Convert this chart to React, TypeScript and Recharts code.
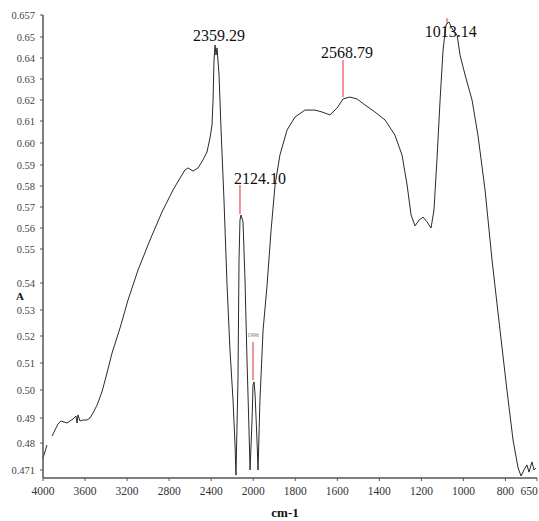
import { LineChart, Line, XAxis, YAxis, ReferenceLine, ReferenceDot } from 'recharts';

// spectrum (cm-1 / absorbance), null = gap in the trace
const wavenumbers = [
    4000, 3962, 3945, 3914, 3886, 3857, 3829, 3800, 3772, 3743, 3715, 3686, 3676, 3667, 3648, 3619,
    3581, 3553, 3524, 3486, 3439, 3391, 3343, 3267, 3191, 3096, 2982, 2868, 2763, 2696, 2649, 2620,
    2573, 2525, 2478, 2440, 2411, 2392, 2382, 2373, 2363, 2354, 2344, 2325, 2306, 2278, 2249, 2221,
    2192, 2173, 2164, 2145, 2135, 2126, 2116, 2097, 2078, 2059, 2040, 2030, 2011, 2002, 1996, 1991,
    1982, 1977, 1968, 1953, 1934, 1915, 1896, 1873, 1839, 1801, 1754, 1706, 1673, 1635, 1601, 1573,
    1540, 1506, 1468, 1421, 1373, 1326, 1292, 1268, 1249, 1230, 1211, 1192, 1173, 1154, 1140, 1126,
    1111, 1097, 1083, 1069, 1050, 1030, 1016, 992, 959, 931, 897, 864, 826, 793, 764, 740,
    726, 712, 698, 688, 674, 664, 655,
];
const absorbance = [
    0.475, 0.4793, null, 0.4828, 0.4852, 0.4876, 0.4888, 0.4884, 0.488, 0.4888, 0.4896, 0.4907, 0.488, 0.4911, 0.4888, 0.4892,
    0.4892, 0.49, 0.4918, 0.4946, 0.4993, 0.5063, 0.5137, 0.5231, 0.5337, 0.5438, 0.5543, 0.5676, 0.5781, 0.5838, 0.5876, 0.5886,
    0.5871, 0.5886, 0.5923, 0.5959, 0.6023, 0.6082, 0.62, 0.639, 0.6462, 0.6414, 0.6448, 0.6319, 0.6059, 0.5733, 0.5393, 0.5148,
    0.4964, 0.4793, 0.4693, 0.5037, 0.5468, 0.5638, 0.5662, 0.5629, 0.5409, 0.5111, 0.4852, 0.471, 0.4892, 0.5019, 0.503, 0.4982,
    0.4812, 0.471, 0.4964, 0.5223, 0.5393, 0.559, 0.5805, 0.5945, 0.6059, 0.6119, 0.6152, 0.6152, 0.6143, 0.6129, 0.6162, 0.6205,
    0.6214, 0.6205, 0.6176, 0.6143, 0.6105, 0.6036, 0.5945, 0.5805, 0.5662, 0.561, 0.5638, 0.5652, 0.5629, 0.56, 0.5686, 0.5923,
    0.62, 0.6438, 0.6538, 0.6548, 0.6522, 0.6506, 0.6414, 0.6319, 0.62, 0.6036, 0.5781, 0.5468, 0.5223, 0.5, 0.4812, 0.4717,
    0.469, 0.471, 0.4727, 0.4703, 0.4737, 0.471, 0.4717,
];

const xTickValues = [4000, 3600, 3200, 2800, 2400, 2000, 1800, 1600, 1400, 1200, 1000, 800, 650];
const yTickValues = [0.471, 0.48, 0.49, 0.5, 0.51, 0.52, 0.53, 0.54, 0.55, 0.56, 0.57, 0.58, 0.59, 0.6, 0.61, 0.62, 0.63, 0.64, 0.65, 0.657];
const yTickLabels = ['0.471', '0.48', '0.49', '0.50', '0.51', '0.52', '0.53', '0.54', '0.55', '0.56', '0.57', '0.58', '0.59', '0.60', '0.61', '0.62', '0.63', '0.64', '0.65', '0.657'];

// peak annotations
const peakLabels = ['2359.29', '2124.10', '2568.79', '1013.14', '1996'];
const peakLabelWavenumber = [2325, 1968, 1554, 1060, 2002];
const peakLabelAbsorbance = [0.6506, 0.5838, 0.6424, 0.6516, 0.5204];
const markerWavenumber = [2126, 1573, 2002, 1078];
const markerTop = [0.5805, 0.639, 0.5178, 0.656];
const markerBottom = [0.5667, 0.6214, 0.5037, 0.6541];

// the original axis is not linear: x is stretched 2x below 2000 cm-1,
// y tick spacing is uneven. these are the tick heights (px above the x axis).
const Y_STOPS = [8, 35, 60, 88, 115, 142, 168, 195, 229, 250, 271, 292, 313, 335, 357, 378, 399, 420, 441, 463];
const Y_TOP = 463;
const X_END = 11.75;

const wnToSlot = (wn: number) => (wn >= 2000 ? (4000 - wn) / 400 : 5 + (2000 - wn) / 200);

const yToU = (v: number) => {
    const n = yTickValues.length;
    let i = 0;
    if (v >= yTickValues[n - 1]) i = n - 2;
    else while (i < n - 2 && v > yTickValues[i + 1]) i++;
    const v0 = yTickValues[i], v1 = yTickValues[i + 1];
    return Y_STOPS[i] + ((v - v0) / (v1 - v0)) * (Y_STOPS[i + 1] - Y_STOPS[i]);
};

const rows = wavenumbers.map((wn, i) => ({
    s: wnToSlot(wn),
    u: absorbance[i] == null ? null : yToU(absorbance[i] as number),
}));

const xTicks = xTickValues.map(wnToSlot);
const yTicks = yTickValues.map(yToU);

const serif = '"Liberation Serif", "DejaVu Serif", serif';

function XTick(props: any) {
    const { x, y, payload } = props;
    const i = xTicks.findIndex((t) => Math.abs(t - payload.value) < 1e-6);
    const label = i >= 0 ? String(xTickValues[i]) : '';
    // keep the last label inside the picture
    const tx = Math.min(x, 539 - 10);
    return (
        <text x={tx} y={y} dy="0.71em" textAnchor="middle" fontSize={11.5} fill="#333" fontFamily={serif}>
            {label}
        </text>
    );
}

export default function App() {
    return (
        <div style={{ width: 539, height: 521, background: '#fff' }}>
            <style>{'body { margin: 0; }'}</style>
            <LineChart width={539} height={521} data={rows} margin={{ top: 15, right: 2, bottom: 0, left: 0 }}>
                <XAxis
                    type="number"
                    dataKey="s"
                    domain={[0, X_END]}
                    ticks={xTicks}
                    interval={0}
                    height={43}
                    tick={<XTick />}
                    tickSize={3}
                    tickMargin={6}
                    axisLine={{ stroke: '#555', strokeWidth: 1.5 }}
                    tickLine={{ stroke: '#555' }}
                    label={{
                        value: 'cm-1',
                        position: 'insideBottom',
                        offset: 4,
                        dx: -5,
                        style: { fontFamily: serif, fontWeight: 'bold', fontSize: 13, fill: '#111' },
                    }}
                />
                <YAxis
                    type="number"
                    domain={[0, Y_TOP]}
                    ticks={yTicks}
                    interval={0}
                    width={43}
                    tickFormatter={(v: number) => {
                        const i = yTicks.findIndex((t) => Math.abs(t - v) < 1e-6);
                        return i >= 0 ? yTickLabels[i] : '';
                    }}
                    tick={{ fontSize: 10.5, fill: '#444', fontFamily: serif }}
                    tickSize={3}
                    tickMargin={5}
                    axisLine={{ stroke: '#555', strokeWidth: 1.5 }}
                    tickLine={{ stroke: '#555' }}
                    label={{
                        value: 'A',
                        position: 'insideLeft',
                        offset: 16,
                        dy: 50,
                        style: { fontFamily: serif, fontWeight: 'bold', fontSize: 11, fill: '#111', textAnchor: 'start' },
                    }}
                />
                {markerWavenumber.map((wn, i) => (
                    <ReferenceLine
                        key={'m' + i}
                        segment={[
                            { x: wnToSlot(wn), y: yToU(markerTop[i]) },
                            { x: wnToSlot(wn), y: yToU(markerBottom[i]) },
                        ]}
                        stroke="#e8707a"
                        strokeWidth={1.5}
                        ifOverflow="visible"
                    />
                ))}
                <Line
                    type="linear"
                    dataKey="u"
                    stroke="#2a2a2a"
                    strokeWidth={1}
                    dot={false}
                    connectNulls={false}
                    isAnimationActive={false}
                />
                {peakLabels.map((t, i) => (
                    <ReferenceDot
                        key={'p' + i}
                        x={wnToSlot(peakLabelWavenumber[i])}
                        y={yToU(peakLabelAbsorbance[i])}
                        r={0}
                        ifOverflow="visible"
                        shape={(p: any) => (
                            <text
                                x={p.cx}
                                y={p.cy}
                                textAnchor="middle"
                                dominantBaseline="central"
                                fontFamily={serif}
                                fontSize={i === 4 ? 6 : 16}
                                fill={i === 4 ? '#777' : '#111'}
                            >
                                {t}
                            </text>
                        )}
                    />
                ))}
            </LineChart>
        </div>
    );
}
